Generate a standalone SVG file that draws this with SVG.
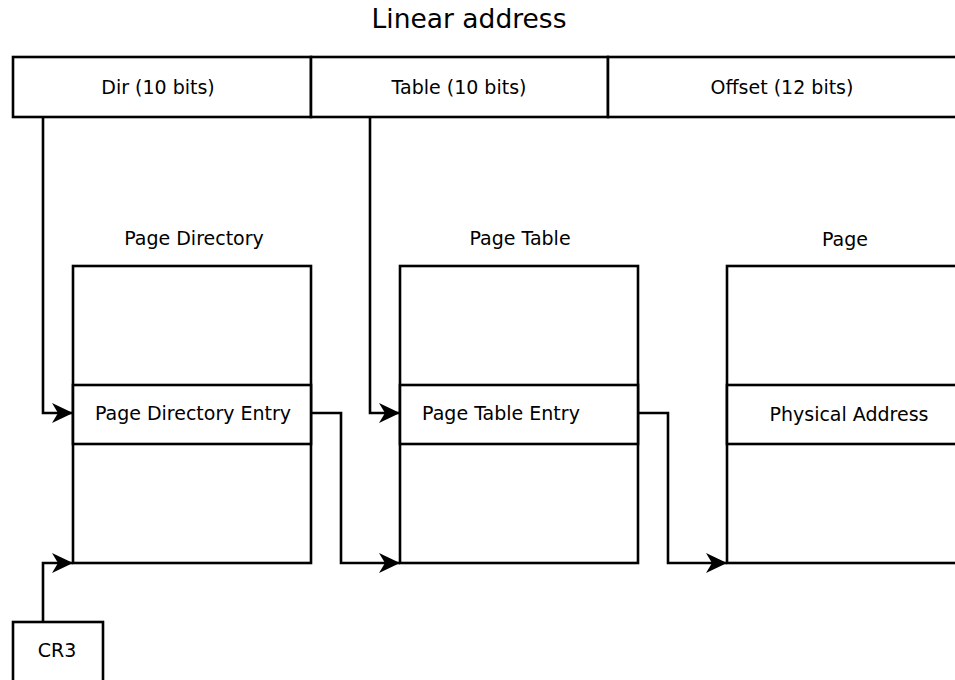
<svg xmlns="http://www.w3.org/2000/svg" width="955" height="680" viewBox="0 0 955 680">
  <style>
    .box { fill: #ffffff; stroke: #000000; stroke-width: 2.6; }
    .wire { fill: none; stroke: #000000; stroke-width: 2.6; stroke-linejoin: miter; }
    .label { font-family: "DejaVu Sans", "Liberation Sans", sans-serif; font-size: 19px; fill: #000000; text-anchor: middle; }
    .title { font-family: "DejaVu Sans", "Liberation Sans", sans-serif; font-size: 26.5px; fill: #000000; text-anchor: middle; }
  </style>
  <defs>
    <marker id="arrow" markerUnits="userSpaceOnUse" viewBox="-21 -11 22 22" refX="0" refY="0" markerWidth="22" markerHeight="22" orient="auto">
      <path d="M 0 0 L -21 -10 L -15 0 L -21 10 Z" fill="#000000"/>
    </marker>
  </defs>

  <text class="title" x="469" y="28">Linear address</text>

  <!-- linear address fields -->
  <g id="dir-field">
    <rect class="box" x="13" y="57" width="298" height="60"/>
    <text class="label" x="158" y="94">Dir (10 bits)</text>
  </g>
  <g id="table-field">
    <rect class="box" x="311" y="57" width="297" height="60"/>
    <text class="label" x="459" y="94">Table (10 bits)</text>
  </g>
  <g id="offset-field">
    <rect class="box" x="608" y="57" width="360" height="60"/>
    <text class="label" x="782" y="94">Offset (12 bits)</text>
  </g>

  <!-- page directory -->
  <g id="page-directory">
    <text class="label" x="194" y="245">Page Directory</text>
    <rect class="box" x="73" y="266" width="238" height="297"/>
    <rect class="box" x="73" y="385" width="238" height="59"/>
    <text class="label" x="193" y="420">Page Directory Entry</text>
  </g>

  <!-- page table -->
  <g id="page-table">
    <text class="label" x="520" y="245">Page Table</text>
    <rect class="box" x="400" y="266" width="238" height="297"/>
    <rect class="box" x="400" y="385" width="238" height="59"/>
    <text class="label" x="501" y="420">Page Table Entry</text>
  </g>

  <!-- page -->
  <g id="page">
    <text class="label" x="845" y="246">Page</text>
    <rect class="box" x="727" y="266" width="250" height="297"/>
    <rect class="box" x="727" y="385" width="250" height="59"/>
    <text class="label" x="849" y="421">Physical Address</text>
  </g>

  <!-- CR3 register -->
  <g id="cr3">
    <rect class="box" x="13" y="622" width="90" height="80"/>
    <text class="label" x="57" y="657">CR3</text>
  </g>

  <!-- connectors -->
  <g id="connectors">
    <path class="wire" d="M 43 117 L 43 413 L 73 413" marker-end="url(#arrow)"/>
    <path class="wire" d="M 370 117 L 370 413 L 400 413" marker-end="url(#arrow)"/>
    <path class="wire" d="M 311 413 L 341 413 L 341 563 L 400 563" marker-end="url(#arrow)"/>
    <path class="wire" d="M 638 413 L 668 413 L 668 563 L 727 563" marker-end="url(#arrow)"/>
    <path class="wire" d="M 43 622 L 43 563 L 73 563" marker-end="url(#arrow)"/>
  </g>
</svg>
